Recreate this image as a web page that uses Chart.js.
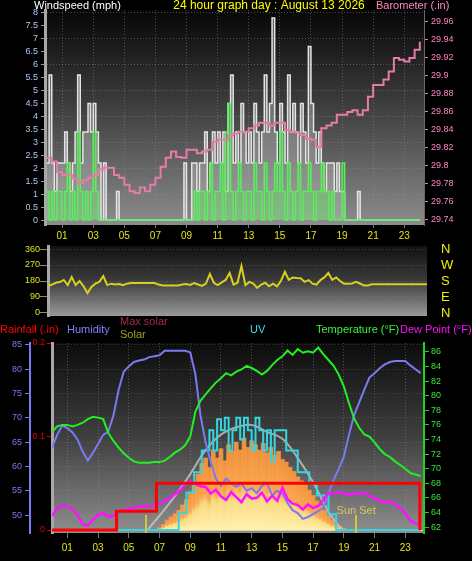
<!DOCTYPE html>
<html>
<head>
<meta charset="utf-8">
<script src="https://cdn.jsdelivr.net/npm/chart.js@4.4.1/dist/chart.umd.min.js"></script>
<style>
  html, body { margin: 0; padding: 0; background: #000; }
  #wrap { position: relative; width: 472px; height: 561px; overflow: hidden; background: #000; }
  canvas { position: absolute; left: 0; }
</style>
</head>
<body>
<div id="wrap">
  <canvas id="windChart" width="472" height="243" style="top:0"></canvas>
  <canvas id="dirChart" width="472" height="86" style="top:238px"></canvas>
  <canvas id="weatherChart" width="472" height="249" style="top:312px"></canvas>
</div>
<script>
// ---- data ----
const hourTicks = [1, 3, 5, 7, 9, 11, 13, 15, 17, 19, 21, 23];
const compassLabels = { 0: 'N', 90: 'E', 180: 'S', 270: 'W', 360: 'N' };

// windspeed, mph, every 10 minutes
const windGust = [
  2.2, 5.6, 2.2, 1.1, 2.2, 2.2,
  2.2, 3.4, 2.2, 1.1, 2.2, 3.4,
  5.6, 2.2, 3.4, 3.4, 4.5, 3.4,
  4.5, 3.4, 2.2, 0, 2.2, 0,
  0, 0, 0, 1.1, 0, 0,
  0, 0, 0, 0, 0, 0,
  0, 0, 0, 0, 0, 0,
  0, 0, 0, 0, 0, 0,
  0, 0, 0, 0, 0, 2.2,
  0, 0, 2.2, 2.2, 1.1, 2.2,
  2.2, 3.4, 1.1, 2.2, 3.4, 2.2,
  3.4, 2.2, 3.4, 1.1, 4.5, 5.6,
  2.2, 3.4, 2.2, 4.5, 3.4, 2.2,
  3.4, 2.2, 4.5, 3.4, 2.2, 3.4,
  5.6, 3.4, 4.5, 7.8, 3.4, 2.2,
  4.5, 3.4, 2.2, 5.6, 3.4, 4.5,
  3.4, 2.2, 4.5, 3.4, 2.2, 6.7,
  4.5, 3.4, 2.2, 3.4, 2.2, 1.1,
  2.2, 2.2, 2.2, 1.1, 2.2, 1.1,
  1.1, 0, 0, 0, 0, 0,
  1.1, 0, 0, 0, 0, 0,
  0, 0, 0, 0, 0, 0,
  0, 0, 0, 0, 0, 0,
  0, 0, 0, 0, 0, 0,
  0
];
const windAvg = [
  1.1, 0, 1.1, 0, 1.1, 1.1,
  0, 1.1, 2.2, 0, 1.1, 0,
  3.4, 1.1, 0, 1.1, 0, 1.1,
  3.4, 1.1, 0, 0, 0, 0,
  0, 0, 0, 0, 0, 0,
  0, 0, 0, 0, 0, 0,
  0, 0, 0, 0, 0, 0,
  0, 0, 0, 0, 0, 0,
  0, 0, 0, 0, 0, 0,
  0, 0, 0, 1.1, 0, 1.1,
  1.1, 0, 1.1, 2.2, 0, 1.1,
  1.1, 2.2, 0, 3.4, 4.5, 1.1,
  0, 1.1, 2.2, 1.1, 0, 1.1,
  1.1, 0, 2.2, 1.1, 1.1, 0,
  2.2, 1.1, 0, 1.1, 2.2, 1.1,
  3.4, 1.1, 0, 2.2, 1.1, 0,
  1.1, 2.2, 0, 1.1, 1.1, 2.2,
  1.1, 0, 1.1, 1.1, 2.2, 1.1,
  1.1, 0, 1.1, 0, 0, 0,
  2.2, 0, 0, 0, 0, 0,
  0, 0, 0, 0, 0, 0,
  0, 0, 0, 0, 0, 0,
  0, 0, 0, 0, 0, 0,
  0, 0, 0, 0, 0, 0,
  0
];

// barometer, inHg, every 20 minutes
const barometer = [
  29.809, 29.805, 29.793, 29.790, 29.790, 29.786, 29.781, 29.784, 29.787,
  29.790, 29.796, 29.798, 29.798, 29.790, 29.787, 29.779, 29.772, 29.770,
  29.776, 29.772, 29.779, 29.787, 29.799, 29.809, 29.816, 29.810, 29.809,
  29.818, 29.818, 29.814, 29.816, 29.818, 29.827, 29.829, 29.829, 29.834,
  29.836, 29.838, 29.838, 29.842, 29.845, 29.848, 29.848, 29.845, 29.848,
  29.848, 29.840, 29.838, 29.837, 29.834, 29.830, 29.829, 29.821, 29.842,
  29.845, 29.848, 29.857, 29.857, 29.860, 29.862, 29.857, 29.862, 29.877,
  29.890, 29.890, 29.896, 29.905, 29.920, 29.918, 29.916, 29.920, 29.929,
  29.938
];

// wind direction, degrees, every 15 minutes
const windDir = [
  152, 160, 170, 174, 186, 157, 202, 157, 180, 150, 112, 146,
  165, 175, 208, 157, 165, 160, 163, 157, 165, 169, 169, 169,
  169, 169, 169, 169, 160, 155, 155, 155, 155, 155, 160, 163,
  158, 168, 160, 152, 165, 219, 170, 157, 172, 186, 225, 160,
  170, 264, 157, 175, 165, 141, 160, 170, 150, 165, 150, 180,
  231, 186, 200, 197, 195, 175, 185, 165, 160, 185, 200, 225,
  186, 200, 180, 165, 165, 166, 175, 166, 155, 155, 162, 162,
  162, 162, 162, 162, 162, 162, 162, 162, 162, 162, 162, 162,
  162
];

// temperature / humidity / dew point, every 20 minutes
const temperature = [
  75.0, 75.8, 76.0, 76.0, 75.8, 76.0, 76.3, 76.8, 77.1,
  77.0, 76.8, 74.9, 73.8, 72.9, 72.1, 71.5, 71.0, 70.8,
  70.8, 70.8, 70.9, 70.9, 71.1, 71.6, 72.2, 72.6, 73.2,
  74.4, 77.8, 79.3, 80.2, 81.0, 81.8, 82.4, 83.1, 82.8,
  83.3, 83.6, 84.1, 83.8, 83.4, 82.9, 83.4, 84.2, 84.9,
  85.4, 86.2, 85.6, 86.4, 85.9, 86.1, 85.9, 86.6, 85.7,
  84.9, 84.1, 82.9, 81.3, 79.0, 76.9, 75.6, 74.7, 74.4,
  73.6, 72.7, 72.0, 71.6, 71.0, 70.5, 70.0, 69.4, 69.2,
  69.0
];
const humidity = [
  63.8, 66.5, 68.4, 67.9, 67.0, 65.5, 63.0, 61.2, 62.8,
  64.6, 66.5, 67.2, 70.5, 75.7, 79.5, 80.6, 81.5, 81.8,
  82.0, 82.5, 82.7, 82.9, 83.8, 83.8, 83.8, 83.8, 83.8,
  83.5, 79.0, 70.5, 65.0, 61.0, 57.5, 56.0, 57.5, 56.5,
  55.8, 56.5, 55.0, 55.5, 54.5, 56.0, 56.6, 54.0, 55.0,
  54.5, 52.5, 51.0, 50.4, 49.2, 49.6, 50.2, 50.8, 51.5,
  54.5, 57.2, 59.5, 62.0, 66.5, 70.5, 73.2, 75.8, 78.3,
  79.2, 80.2, 81.0, 81.5, 81.7, 81.7, 81.7, 80.8, 80.0,
  79.2
];
const dewPoint = [
  63.5, 64.6, 64.9, 64.8, 64.5, 63.6, 62.4, 62.2, 63.0,
  63.7, 63.9, 63.4, 63.6, 64.1, 64.3, 64.5, 64.6, 64.8,
  64.8, 64.9, 65.0, 65.2, 65.5, 66.0, 66.5, 67.0, 67.8,
  68.3, 67.9, 67.6, 67.5, 66.6, 67.1, 66.2, 65.7, 66.8,
  66.1, 65.4, 66.5, 65.9, 66.0, 66.7, 65.5, 66.3, 65.6,
  67.4, 65.8, 65.2, 65.0, 64.4, 65.1, 64.6, 64.9, 65.7,
  66.7, 66.6, 66.8, 66.6, 66.4, 66.7, 66.5, 66.7, 66.3,
  65.9, 65.6, 65.4, 65.4, 65.2, 64.6, 63.9, 62.9, 62.5,
  62.4
];

// solar radiation and UV, every 15 minutes
const solar = [
  0, 0, 0, 0, 0, 0, 0, 0, 0, 0, 0, 0, 0, 0, 0, 0, 0, 0, 0, 0, 0, 0, 0, 0,
  0, 0, 0, 0, 20, 45, 77, 100, 125, 150, 190, 230, 280, 360, 420, 500,
  540, 470, 600, 540, 610, 520, 640, 590, 660, 600, 690, 620, 670, 640, 600, 650,
  580, 620, 560, 590, 530, 510, 470, 440, 400, 370, 340, 300, 260, 220, 185, 150,
  110, 77, 50, 30, 15, 0, 0, 0, 0, 0, 0, 0, 0, 0, 0, 0, 0, 0, 0, 0,
  0, 0, 0, 0, 0
];
const uvIndex = [
  0, 0, 0, 0, 0, 0, 0, 0, 0, 0, 0, 0, 0, 0, 0, 0, 0, 0, 0, 0, 0, 0, 0, 0,
  0, 0, 0, 0, 0, 0, 0, 0, 0, 1.1, 1.1, 2.4, 2.4, 3.7, 3.7, 5.1,
  5.1, 6.4, 5.1, 7.1, 6.4, 7.2, 5.1, 6.4, 7.2, 5.8, 7.2, 6.4, 5.1, 7.2, 6.4, 5.1,
  6.4, 4.4, 6.4, 6.4, 6.4, 5.1, 5.1, 5.1, 3.7, 3.7, 3.7, 3.0, 3.0, 2.2, 2.2, 2.2,
  1.0, 1.0, 0, 0, 0, 0, 0, 0, 0, 0, 0, 0, 0, 0, 0, 0, 0, 0, 0, 0,
  0, 0, 0, 0, 0
];
const maxSolarHours = [6.2, 7, 8, 9, 10, 11, 12, 13, 14, 15, 16, 17, 18, 18.9];
const maxSolar = [0, 110, 255, 420, 600, 715, 770, 787, 735, 685, 540, 360, 140, 0];

// rainfall, inches (cumulative)
const rainHours = [0, 4.2, 6.8, 23.95];
const rainfall = [0, 0.02, 0.05, 0];

const sunriseHour = 6.1;
const sunsetHour = 19.8;

// ---- helpers ----
function hoursEvery(step, n) {
  return Array.from({ length: n }, (_, i) => i * step);
}
function pts(hours, values) {
  return values.map((v, i) => ({ x: hours[i], y: v }));
}
const windHours = hoursEvery(1 / 6, windGust.length);
const quarterHours = hoursEvery(0.25, windDir.length);
const thirdHours = hoursEvery(1 / 3, temperature.length);

const FONT = '"Liberation Sans", Arial, sans-serif';
const TICK_YELLOW = '#e2e21c';

function fixedWidth(w) { return scale => { scale.width = w; }; }
function fixedHeight(h) { return scale => { scale.height = h; }; }
function oddHourTicks(scale) { scale.ticks = hourTicks.map(v => ({ value: v })); }
function trimNum(v) { return String(Number(v.toFixed(2))); }

function plotBackground(stops) {
  return {
    id: 'plotBg',
    beforeDraw(chart) {
      const { ctx, chartArea: a } = chart;
      const g = ctx.createLinearGradient(0, a.top, 0, a.bottom);
      stops.forEach(([p, c]) => g.addColorStop(p, c));
      ctx.save();
      ctx.fillStyle = g;
      ctx.fillRect(a.left, a.top, a.right - a.left, a.bottom - a.top);
      ctx.restore();
    }
  };
}
function headers(items) {
  return {
    id: 'headers',
    afterDraw(chart) {
      const ctx = chart.ctx;
      ctx.save();
      ctx.textBaseline = 'middle';
      items.forEach(it => {
        ctx.font = (it.size || 11) + 'px ' + FONT;
        ctx.fillStyle = it.color;
        ctx.textAlign = it.align || 'left';
        ctx.fillText(it.text, it.x, it.y);
      });
      ctx.restore();
    }
  };
}
const sunMarks = {
  id: 'sunMarks',
  afterDatasetsDraw(chart) {
    const { ctx, chartArea: a } = chart;
    const x = chart.scales.x;
    ctx.save();
    ctx.strokeStyle = '#d6c63c';
    ctx.lineWidth = 2;
    [sunriseHour, sunsetHour].forEach(h => {
      const px = Math.round(x.getPixelForValue(h));
      ctx.beginPath();
      ctx.moveTo(px, a.bottom - 18);
      ctx.lineTo(px, a.bottom);
      ctx.stroke();
    });
    ctx.fillStyle = '#d8c858';
    ctx.font = '11px ' + FONT;
    ctx.textAlign = 'center';
    ctx.textBaseline = 'middle';
    ctx.fillText('Sun Set', x.getPixelForValue(sunsetHour), a.bottom - 22);
    ctx.restore();
  }
};

const common = {
  responsive: false,
  animation: false,
  events: [],
  plugins: { legend: { display: false }, tooltip: { enabled: false } },
  elements: { point: { radius: 0 }, line: { tension: 0 } }
};
const dotted = [1, 2];
const gridGray = 'rgba(150,150,150,0.45)';

// ---- top: windspeed + barometer ----
new Chart(document.getElementById('windChart'), {
  type: 'line',
  data: {
    datasets: [
      { label: 'Barometer', data: pts(thirdHours, barometer), yAxisID: 'yBaro',
        borderColor: '#e77ba9', borderWidth: 2, stepped: true, order: 0 },
      { label: 'Wind speed', data: pts(windHours, windAvg), yAxisID: 'yWind',
        borderColor: '#58f058', backgroundColor: 'rgba(80,235,80,0.35)', fill: 'origin',
        borderWidth: 1.5, stepped: true, order: 1 },
      { label: 'Gust', data: pts(windHours, windGust), yAxisID: 'yWind',
        borderColor: '#e4e4e4', backgroundColor: 'rgba(205,205,205,0.35)', fill: 'origin',
        borderWidth: 1.5, stepped: true, order: 2 }
    ]
  },
  options: {
    ...common,
    layout: { padding: { top: 10, left: 0, right: 0, bottom: 0 } },
    scales: {
      x: {
        type: 'linear', min: -0.1, max: 24.27, offset: false,
        afterBuildTicks: oddHourTicks, afterFit: fixedHeight(18),
        ticks: { color: TICK_YELLOW, font: { family: FONT, size: 10 }, padding: 2,
                 autoSkip: false, callback: v => String(v).padStart(2, '0') },
        grid: { color: gridGray, tickColor: '#777', tickLength: 3 },
        border: { display: false, dash: dotted }
      },
      yWind: {
        position: 'left', min: -0.19, max: 8.11,
        afterFit: fixedWidth(45),
        ticks: { stepSize: 0.5, includeBounds: false, autoSkip: false, color: '#a9cbf6',
                 font: { family: FONT, size: 9 }, padding: 3, callback: trimNum },
        grid: { color: c => (c.tick && c.tick.value % 1 === 0) ? gridGray : 'rgba(0,0,0,0)',
                tickColor: '#9a9a9a', tickLength: 4 },
        border: { color: '#a8a8a8', width: 3, dash: dotted }
      },
      yBaro: {
        position: 'right', min: 29.7344, max: 29.9733,
        afterFit: fixedWidth(48),
        ticks: { stepSize: 0.02, includeBounds: false, autoSkip: false, color: '#ff88c4',
                 font: { family: FONT, size: 9 }, padding: 3, callback: trimNum },
        grid: { drawOnChartArea: false, tickColor: '#e77ba9', tickLength: 4 },
        border: { color: '#6a6a6a', width: 1 }
      }
    }
  },
  plugins: [
    plotBackground([[0, '#070707'], [0.08, '#101010'], [0.5, '#454545'], [1, '#8c8c8c']]),
    headers([
      { text: 'Windspeed (mph)', x: 34, y: 6, color: '#ffffff', size: 11 },
      { text: '24 hour graph day : August 13 2026', x: 269, y: 6, color: '#ffff00', size: 12, align: 'center' },
      { text: 'Barometer (.in)', x: 376, y: 6, color: '#ff88c4', size: 11 }
    ])
  ]
});

// ---- middle: wind direction ----
new Chart(document.getElementById('dirChart'), {
  type: 'line',
  data: {
    datasets: [
      { label: 'Direction', data: pts(quarterHours, windDir), yAxisID: 'yDir',
        borderColor: '#d8d020', borderWidth: 2 }
    ]
  },
  options: {
    ...common,
    layout: { padding: { top: 8, left: 0, right: 0, bottom: 8 } },
    scales: {
      x: { type: 'linear', min: 0, max: 24, display: false },
      yDir: {
        position: 'left', min: -17, max: 377,
        afterFit: fixedWidth(48),
        ticks: { stepSize: 90, includeBounds: false, autoSkip: false, color: '#e0e020',
                 font: { family: FONT, size: 9 }, padding: 0 },
        grid: { color: 'rgba(150,150,150,0.35)', tickColor: '#8a8a8a', tickLength: 8 },
        border: { color: '#a8a8a8', width: 3, dash: dotted }
      },
      yCompass: {
        position: 'right', min: -17, max: 377,
        afterFit: fixedWidth(45),
        ticks: { stepSize: 90, includeBounds: false, autoSkip: false, color: '#f0f000',
                 font: { family: FONT, size: 13 }, padding: 0,
                 callback: v => compassLabels[v] || '' },
        grid: { drawOnChartArea: false, drawTicks: true, tickLength: 14, tickColor: 'rgba(0,0,0,0)' },
        border: { display: false }
      }
    }
  },
  plugins: [
    plotBackground([[0, '#111111'], [0.5, '#3c3c3c'], [1, '#9a9a9a']])
  ]
});

// ---- bottom: rain, humidity, solar, UV, temperature, dew point ----
function solarBarColor(c) {
  const chart = c.chart;
  if (!chart.chartArea || c.type !== 'data') return '#ff9a40';
  const ys = chart.scales.ySolar;
  const top = ys.getPixelForValue(c.raw.y);
  const base = ys.getPixelForValue(0);
  if (base - top < 2) return '#ffe890';
  const g = chart.ctx.createLinearGradient(0, top, 0, base);
  g.addColorStop(0, 'rgba(255,150,60,0.9)');
  g.addColorStop(0.5, 'rgba(255,170,80,0.95)');
  g.addColorStop(0.62, 'rgba(255,222,128,0.95)');
  g.addColorStop(1, 'rgba(255,242,176,1)');
  return g;
}

new Chart(document.getElementById('weatherChart'), {
  type: 'line',
  data: {
    datasets: [
      { type: 'bar', label: 'Solar', data: pts(quarterHours, solar), yAxisID: 'ySolar',
        backgroundColor: solarBarColor, barThickness: 4, borderWidth: 0, order: 10 },
      { label: 'Max solar', data: pts(maxSolarHours, maxSolar), yAxisID: 'ySolar',
        borderColor: 'rgba(205,205,205,0.75)', borderWidth: 2, tension: 0.4, order: 9 },
      { label: 'UV', data: pts(quarterHours, uvIndex), yAxisID: 'yUV',
        borderColor: '#34d6e2', borderWidth: 2, stepped: true, order: 8 },
      { label: 'Humidity', data: pts(thirdHours, humidity), yAxisID: 'yHum',
        borderColor: '#7a7af2', borderWidth: 2, order: 6 },
      { label: 'Dew Point', data: pts(thirdHours, dewPoint), yAxisID: 'yTemp',
        borderColor: '#ff10ff', borderWidth: 2.5, order: 5 },
      { label: 'Temperature', data: pts(thirdHours, temperature), yAxisID: 'yTemp',
        borderColor: '#22f022', borderWidth: 2, order: 4 },
      { label: 'Rainfall', data: pts(rainHours, rainfall), yAxisID: 'yRain',
        borderColor: '#ff0000', borderWidth: 3, stepped: true, order: 1 }
    ]
  },
  options: {
    ...common,
    layout: { padding: { top: 31, left: 0, right: 0, bottom: 0 } },
    scales: {
      x: {
        type: 'linear', min: 0, max: 24.22, offset: false,
        afterBuildTicks: oddHourTicks, afterFit: fixedHeight(28),
        ticks: { color: TICK_YELLOW, font: { family: FONT, size: 10 }, padding: 4,
                 autoSkip: false, callback: v => String(v).padStart(2, '0') },
        grid: { offset: false, color: gridGray, tickColor: '#777', tickLength: 5 },
        border: { display: false, dash: dotted }
      },
      yHum: {
        position: 'left', weight: 2, min: 46.3, max: 85.41,
        afterFit: fixedWidth(30),
        ticks: { stepSize: 5, includeBounds: false, autoSkip: false, color: '#7a7af2',
                 font: { family: FONT, size: 9 }, padding: 3 },
        grid: { color: 'rgba(150,150,150,0.3)', tickColor: '#7a7af2', tickLength: 5 },
        border: { color: '#7a7af2', width: 2, dash: dotted }
      },
      yRain: {
        position: 'left', weight: 1, min: -0.0032, max: 0.2,
        afterFit: fixedWidth(22),
        ticks: { stepSize: 0.1, includeBounds: false, autoSkip: false, color: '#e00000',
                 font: { family: FONT, size: 9 }, padding: 2, callback: trimNum },
        grid: { drawOnChartArea: false, tickColor: '#d00000', tickLength: 5 },
        border: { color: '#a8a8a8', width: 3 }
      },
      yTemp: {
        position: 'right', min: 61.18, max: 87.23,
        afterFit: fixedWidth(48),
        ticks: { stepSize: 2, includeBounds: false, autoSkip: false, color: '#3ee03e',
                 font: { family: FONT, size: 9 }, padding: 2 },
        grid: { drawOnChartArea: false, tickColor: '#22d022', tickLength: 5 },
        border: { color: '#22d022', width: 2 }
      },
      ySolar: { display: false, min: -20, max: 1400 },
      yUV: { display: false, min: -0.2, max: 12 }
    }
  },
  plugins: [
    plotBackground([[0, '#0c0c0c'], [0.5, '#404040'], [1, '#8e8e8e']]),
    sunMarks,
    headers([
      { text: 'Rainfall (.in)', x: 0, y: 18, color: '#ff0000' },
      { text: 'Humidity', x: 67, y: 18, color: '#8080ff' },
      { text: 'Max solar', x: 120, y: 10, color: '#a32a4a' },
      { text: 'Solar', x: 120, y: 23, color: '#a0a020' },
      { text: 'UV', x: 250, y: 18, color: '#3cdcec' },
      { text: 'Temperature (\u00B0F)', x: 316, y: 18, color: '#3ef03e' },
      { text: 'Dew Point (\u00B0F)', x: 400, y: 18, color: '#ff10ff' }
    ])
  ]
});
</script>
</body>
</html>
